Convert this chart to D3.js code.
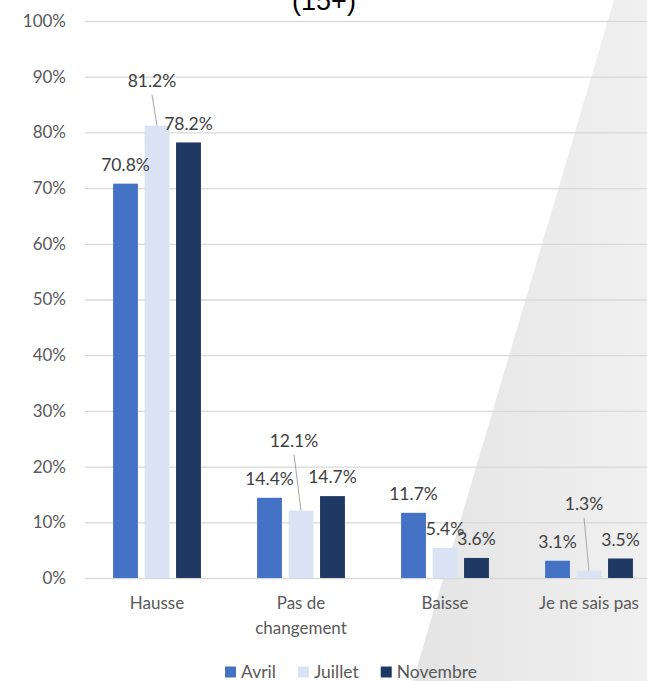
<!DOCTYPE html>
<html>
<head>
<meta charset="utf-8">
<script src="https://cdn.jsdelivr.net/npm/d3@7"></script>
<style>
    body { margin: 0; background: #fff; }
    svg { display: block; }
</style>
</head>
<body>
<div id="chart"></div>
<script>
// values (percent)
const categories = ['Hausse', 'Pas de changement', 'Baisse', 'Je ne sais pas']
const seriesNames = ['Avril', 'Juillet', 'Novembre']
const avril = [70.8, 14.4, 11.7, 3.1]
const juillet = [81.2, 12.1, 5.4, 1.3]
const novembre = [78.2, 14.7, 3.6, 3.5]
const yTicks = [0, 10, 20, 30, 40, 50, 60, 70, 80, 90, 100]
const title = '(15+)'

// labels that were dragged away from their bar (with a leader line)
const movedLabels = [
    { serie: 'Juillet', category: 'Hausse', dx: -5, dy: -45 },
    { serie: 'Juillet', category: 'Pas de changement', dx: -7, dy: -70 },
    { serie: 'Juillet', category: 'Je ne sais pas', dx: -5, dy: -67 }
]

const cfg = {
    w: 647,
    h: 681,
    margin: { top: 21, right: -14, bottom: 103, left: 85 },
    font: 'Lato, "Open Sans", sans-serif',
    colors: ['#4472C4', '#DAE3F3', '#203864'],
    grid: '#d9d9d9',
    text: '#595959',
    labelText: '#404040'
}

const values = { Avril: avril, Juillet: juillet, Novembre: novembre }
const data = categories.map((c, i) => ({
    category: c,
    bars: seriesNames.map(s => ({ serie: s, category: c, value: values[s][i] }))
}))

const svgRoot = d3.select('#chart')
    .append('svg')
    .attr('width', cfg.w)
    .attr('height', cfg.h)
    .style('font-family', cfg.font)

// grey page fold in the background
const defs = svgRoot.append('defs')
const grad = defs.append('linearGradient')
    .attr('id', 'fold')
    .attr('gradientUnits', 'userSpaceOnUse')
    .attr('x1', 413).attr('y1', 0)
    .attr('x2', 647).attr('y2', 0)
grad.append('stop').attr('offset', 0).attr('stop-color', '#e4e4e4')
grad.append('stop').attr('offset', 1).attr('stop-color', '#f0f0f0')

svgRoot.append('polygon')
    .attr('points', '614,0 647,0 647,681 413,681')
    .attr('fill', 'url(#fold)')

// title, cut off by the top of the picture
svgRoot.append('text')
    .attr('x', 324)
    .attr('y', 10)
    .attr('text-anchor', 'middle')
    .attr('font-family', '"Liberation Sans", Arial, sans-serif')
    .attr('font-size', 27)
    .attr('fill', '#000')
    .text(title)

const width = cfg.w - cfg.margin.left - cfg.margin.right
const height = cfg.h - cfg.margin.top - cfg.margin.bottom

const svg = svgRoot.append('g')
    .attr('transform', `translate(${cfg.margin.left}, ${cfg.margin.top})`)

const x0 = d3.scaleBand()
    .domain(categories)
    .range([0, width])
    .paddingInner(0.39)
    .paddingOuter(0.195)

const x1 = d3.scaleBand()
    .domain(seriesNames)
    .range([0, x0.bandwidth()])
    .paddingInner(0.21)
    .paddingOuter(0)

const y = d3.scaleLinear()
    .domain([0, 100])
    .range([height, 0])

const color = d3.scaleOrdinal(seriesNames, cfg.colors)

// gridlines + y labels
const yAxis = svg.append('g')
    .call(d3.axisLeft(y)
        .tickValues(yTicks)
        .tickSize(-width)
        .tickPadding(19)
        .tickFormat(d => `${d}%`)
    )
yAxis.select('.domain').remove()
yAxis.selectAll('.tick line')
    .attr('stroke', cfg.grid)
    .attr('stroke-width', 1.3)
yAxis.selectAll('.tick text')
    .attr('fill', cfg.text)
    .attr('font-size', 17)
    .attr('font-family', cfg.font)

// x labels
const xAxis = svg.append('g')
    .attr('transform', `translate(0, ${height})`)
    .call(d3.axisBottom(x0).tickSize(0).tickPadding(19))
xAxis.select('.domain').remove()
xAxis.selectAll('.tick text')
    .attr('fill', cfg.text)
    .attr('font-size', 17)
    .attr('font-family', cfg.font)
    .call(wrap, 125)

function wrap(texts, maxWidth) {
    texts.each(function () {
        const text = d3.select(this)
        const words = text.text().split(/\s+/)
        const yPos = text.attr('y')
        const dy = parseFloat(text.attr('dy'))
        let line = []
        let lineNo = 0
        let tspan = text.text(null).append('tspan').attr('x', 0).attr('y', yPos).attr('dy', `${dy}em`)
        words.forEach(word => {
            line.push(word)
            tspan.text(line.join(' '))
            if (tspan.node().getComputedTextLength() > maxWidth && line.length > 1) {
                line.pop()
                tspan.text(line.join(' '))
                line = [word]
                lineNo++
                tspan = text.append('tspan').attr('x', 0).attr('y', yPos)
                    .attr('dy', `${lineNo * 1.45 + dy}em`)
                    .text(word)
            }
        })
    })
}

// bars
const groups = svg.selectAll('.group')
    .data(data).enter()
    .append('g')
    .attr('class', 'group')
    .attr('transform', d => `translate(${x0(d.category)}, 0)`)

groups.selectAll('rect')
    .data(d => d.bars).enter()
    .append('rect')
    .attr('x', d => x1(d.serie))
    .attr('y', d => y(d.value))
    .attr('width', x1.bandwidth())
    .attr('height', d => height - y(d.value))
    .attr('fill', d => color(d.serie))

// data labels
const findMove = d => movedLabels.find(m => m.serie === d.serie && m.category === d.category)

groups.selectAll('.leader')
    .data(d => d.bars.filter(findMove)).enter()
    .append('line')
    .attr('class', 'leader')
    .attr('x1', d => x1(d.serie) + x1.bandwidth() / 2 + findMove(d).dx)
    .attr('y1', d => y(d.value) + findMove(d).dy + 14)
    .attr('x2', d => x1(d.serie) + x1.bandwidth() / 2)
    .attr('y2', d => y(d.value))
    .attr('stroke', '#a6a6a6')
    .attr('stroke-width', 1)

groups.selectAll('.label')
    .data(d => d.bars).enter()
    .append('text')
    .attr('class', 'label')
    .attr('x', d => x1(d.serie) + x1.bandwidth() / 2 + (findMove(d) ? findMove(d).dx : 0))
    .attr('y', d => y(d.value) + (findMove(d) ? findMove(d).dy : -19))
    .attr('dy', '0.35em')
    .attr('text-anchor', 'middle')
    .attr('font-size', 17.5)
    .attr('fill', cfg.labelText)
    .text(d => `${d.value.toFixed(1)}%`)

// legend
const legend = svgRoot.append('g')
    .attr('transform', 'translate(225, 672)')
let lx = 0
seriesNames.forEach(s => {
    const item = legend.append('g').attr('transform', `translate(${lx}, 0)`)
    item.append('rect')
        .attr('x', 0).attr('y', -5.5)
        .attr('width', 11).attr('height', 11)
        .attr('fill', color(s))
    const t = item.append('text')
        .attr('x', 16)
        .attr('dy', '0.35em')
        .attr('font-size', 17.5)
        .attr('fill', cfg.text)
        .text(s)
    lx += 16 + t.node().getComputedTextLength() + 22
})
</script>
</body>
</html>
